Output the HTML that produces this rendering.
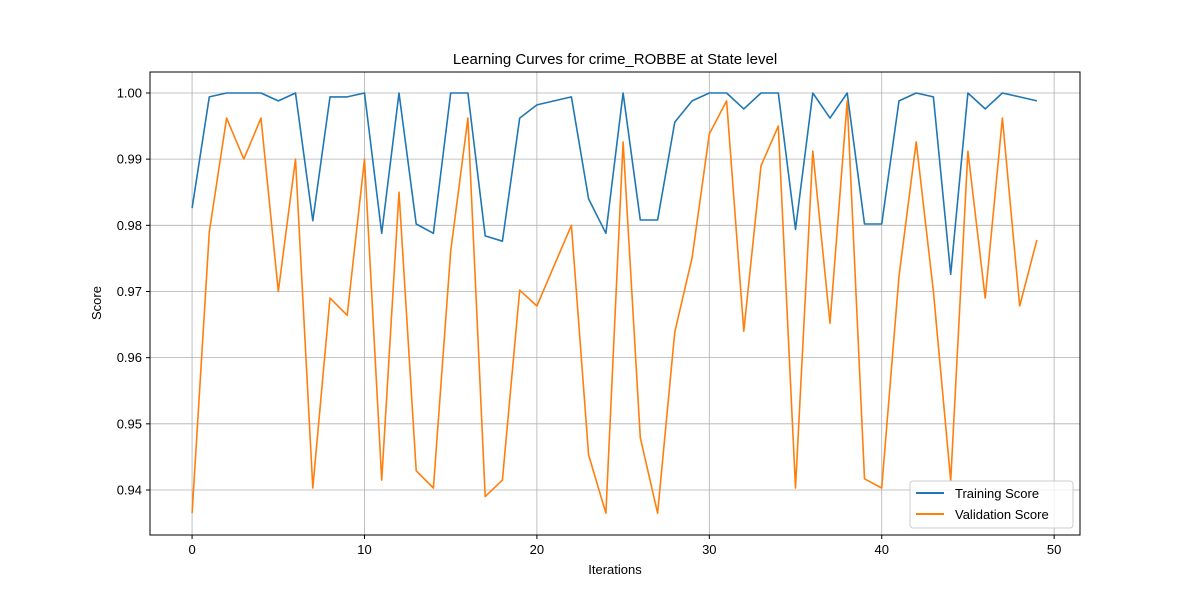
<!DOCTYPE html>
<html><head><meta charset="utf-8"><style>
body{margin:0;background:#fff;}
svg{display:block;font-family:"Liberation Sans","DejaVu Sans",sans-serif;}
</style></head><body>
<svg id="chart" width="1200" height="600">
<rect width="1200" height="600" fill="#fff"/>
<text x="615" y="64" font-size="15" text-anchor="middle">Learning Curves for crime_ROBBE at State level</text>
<g id="grid"></g>
<g id="series"></g>
<rect x="150" y="72" width="930" height="463" fill="none" stroke="#000" stroke-width="1"/>
<g id="ticks"></g>
<text x="615" y="574" font-size="13" text-anchor="middle">Iterations</text>
<text x="101" y="303" font-size="13" text-anchor="middle" transform="rotate(-90 101 303)">Score</text>
<g>
<rect x="910" y="481" width="163" height="47" rx="3" fill="#fff" fill-opacity="0.8" stroke="#ccc"/>
<g>
<line x1="916" y1="493" x2="944" y2="493" stroke="#1f77b4" stroke-width="2"/>
<text x="955" y="498" font-size="13">Training Score</text></g>
<g>
<line x1="916" y1="514" x2="944" y2="514" stroke="#ff7f0e" stroke-width="2"/>
<text x="955" y="519" font-size="13">Validation Score</text></g>
</g>
</svg>
<script>
const trainScores=[0.9826,0.9994,1.0,1.0,1.0,0.9988,1.0,0.9807,0.9994,0.9994,1.0,0.9788,1.0,0.9802,0.9788,1.0,1.0,0.9784,0.9776,0.9962,0.9982,0.9988,0.9994,0.984,0.9788,1.0,0.9808,0.9808,0.9956,0.9988,1.0,1.0,0.9976,1.0,1.0,0.9794,1.0,0.9962,1.0,0.9802,0.9802,0.9988,1.0,0.9994,0.9726,1.0,0.9976,1.0,0.9994,0.9988];
const valScores=[0.9365,0.979,0.9962,0.990,0.9962,0.970,0.990,0.9403,0.969,0.9664,0.990,0.9415,0.985,0.9429,0.9403,0.9761,0.9962,0.939,0.9415,0.9702,0.9678,0.9739,0.980,0.9453,0.9365,0.9926,0.9479,0.9365,0.9639,0.9751,0.9938,0.9988,0.964,0.989,0.995,0.9403,0.9912,0.9652,0.9988,0.9417,0.9403,0.9723,0.9926,0.970,0.9414,0.9912,0.969,0.9962,0.9678,0.9778];
const xTicks=[0,10,20,30,40,50];
const yTicks=[0.94,0.95,0.96,0.97,0.98,0.99,1.00];
const X0=150,X1=1080,Y0=72,Y1=535;
const xMin=-2.44,xMax=51.5,yMin=0.9332,yMax=1.00317;
function sx(v){return X0+(v-xMin)/(xMax-xMin)*(X1-X0);}
function sy(v){return Y1-(v-yMin)/(yMax-yMin)*(Y1-Y0);}
const NS="http://www.w3.org/2000/svg";
const grid=document.getElementById('grid'),ticks=document.getElementById('ticks'),series=document.getElementById('series');
function mk(tag,attrs,parent){const e=document.createElementNS(NS,tag);for(const k in attrs)e.setAttribute(k,attrs[k]);parent.appendChild(e);return e;}
xTicks.forEach(t=>{const x=sx(t);
const g=mk('line',{x1:x,x2:x,y1:Y0,y2:Y1,stroke:'#b0b0b0','stroke-width':0.8},grid);


mk('line',{x1:x,x2:x,y1:Y1,y2:Y1+4,stroke:'#000'},ticks);
const l=mk('text',{x:x,y:Y1+19,'font-size':13,'text-anchor':'middle'},ticks);l.textContent=t;

});
yTicks.forEach(t=>{const y=sy(t);
const g=mk('line',{x1:X0,x2:X1,y1:y,y2:y,stroke:'#b0b0b0','stroke-width':0.8},grid);


mk('line',{x1:X0-4,x2:X0,y1:y,y2:y,stroke:'#000'},ticks);
const l=mk('text',{x:X0-8,y:y+4.5,'font-size':13,'text-anchor':'end'},ticks);l.textContent=t.toFixed(2);

});
function line(arr,color,name){const d=arr.map((v,i)=>(i?'L':'M')+sx(i).toFixed(1)+','+sy(v).toFixed(1)).join('');
const p=mk('path',{d:d,fill:'none',stroke:color,'stroke-width':1.6,'stroke-linejoin':'round'},series);

}
line(trainScores,'#1f77b4','training-score-line');
line(valScores,'#ff7f0e','validation-score-line');
</script>
</body></html>
